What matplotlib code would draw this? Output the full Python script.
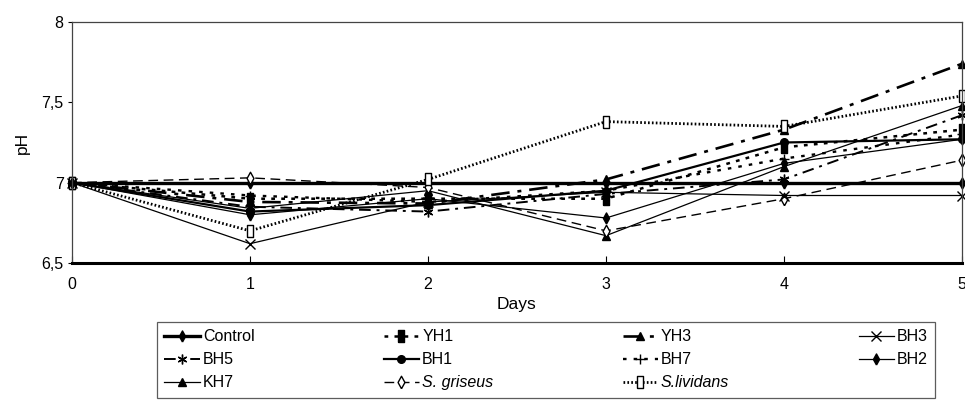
import matplotlib
matplotlib.use("Agg")
import matplotlib.pyplot as plt

plt.rcParams['font.family'] = ['Liberation Sans', 'DejaVu Sans']

days = [0, 1, 2, 3, 4, 5]
control = [7.00, 7.00, 7.00, 7.00, 7.00, 7.00]
yh1 = [7.00, 6.90, 6.90, 6.90, 7.22, 7.33]
yh3 = [7.00, 6.88, 6.87, 7.02, 7.33, 7.74]
bh3 = [7.00, 6.62, 6.88, 6.94, 6.92, 6.92]
bh5 = [7.00, 6.85, 6.82, 6.93, 7.02, 7.42]
bh1 = [7.00, 6.82, 6.86, 6.95, 7.25, 7.27]
bh7 = [7.00, 6.92, 6.88, 6.95, 7.15, 7.30]
bh2 = [7.00, 6.80, 6.90, 6.78, 7.12, 7.27]
kh7 = [7.00, 6.84, 6.95, 6.67, 7.10, 7.48]
s_griseus = [7.00, 7.03, 6.97, 6.70, 6.90, 7.14]
s_lividans = [7.00, 6.70, 7.02, 7.38, 7.35, 7.54]

xticks = [0, 1, 2, 3, 4, 5]
yticks = [6.5, 7.0, 7.5, 8.0]
ytick_labels = ["6,5", "7", "7,5", "8"]

fig = plt.figure(figsize=(9.65, 4.12), dpi=100)
ax = fig.add_axes([0.0746, 0.3617, 0.9223, 0.5849])

k = 'black'
rect = [(-0.55, -1), (0.55, -1), (0.55, 1), (-0.55, 1), (-0.55, -1)]
tall_d = [(0, -1), (0.55, 0), (0, 1), (-0.55, 0), (0, -1)]
series = [
    ("Control", control, dict(ls='-', lw=2.4, marker=tall_d, ms=8, mfc=k)),
    ("BH5", bh5, dict(ls=(0, (6, 3, 1.5, 3)), lw=1.4, marker=(6, 2, 0), ms=7, mfc=k)),
    ("KH7", kh7, dict(ls='-', lw=0.9, marker='^', ms=6, mfc=k)),
    ("YH1", yh1, dict(ls=(0, (1.5, 2.5)), lw=1.8, marker=rect, ms=8, mfc=k)),
    ("BH1", bh1, dict(ls='-', lw=1.6, marker='o', ms=5.5, mfc=k)),
    ("S. griseus", s_griseus, dict(ls=(0, (7, 4)), lw=1.0, marker=tall_d, ms=9, mfc='white')),
    ("YH3", yh3, dict(ls=(0, (7, 3, 1.5, 3)), lw=1.9, marker='^', ms=6, mfc=k)),
    ("BH7", bh7, dict(ls=(0, (1.5, 3)), lw=1.7, marker='+', ms=7, mfc=k)),
    ("S.lividans", s_lividans, dict(ls=(0, (0.6, 0.8)), lw=2.0, marker=rect, ms=9, mfc='white', mew=1.0)),
    ("BH3", bh3, dict(ls='-', lw=0.9, marker='x', ms=7, mfc=k)),
    ("BH2", bh2, dict(ls='-', lw=0.9, marker=tall_d, ms=8, mfc=k)),
]

handles = []
for name, vals, st in series:
    h, = ax.plot(days, vals, color=k, mec=k, label=name, clip_on=False, **st)
    handles.append(h)

ax.set_xlim(0, 5)
ax.set_ylim(6.5, 8.0)
ax.set_xticks(xticks)
ax.set_xticklabels([str(t) for t in xticks], fontsize=11.5)
ax.set_yticks(yticks)
ax.set_yticklabels(ytick_labels, fontsize=11.5)
ax.tick_params(axis='x', direction='in', length=5, width=0.8, pad=10)
ax.tick_params(axis='y', direction='out', length=3, width=0.8, pad=3)
for s in ['top', 'right', 'left']:
    ax.spines[s].set_linewidth(0.9)
    ax.spines[s].set_color('#444444')
ax.spines['bottom'].set_linewidth(2.2)
ax.set_xlabel("Days", fontsize=12.5, labelpad=4)
ax.set_ylabel("pH", fontsize=12.5, labelpad=8)

leg = fig.legend(handles=handles, ncol=4, loc='upper left',
                 bbox_to_anchor=(0.163, -0.15, 0.806, 0.368), mode='expand',
                 frameon=True, fancybox=False, edgecolor='#333333',
                 fontsize=11.5, handlelength=2.2, handletextpad=0.2,
                 labelspacing=0.5, borderpad=0.45, borderaxespad=0.0)
leg.get_frame().set_linewidth(0.9)
for t in leg.get_texts():
    if t.get_text().startswith("S."):
        t.set_style('italic')

fig.savefig("out.png", dpi=100)
